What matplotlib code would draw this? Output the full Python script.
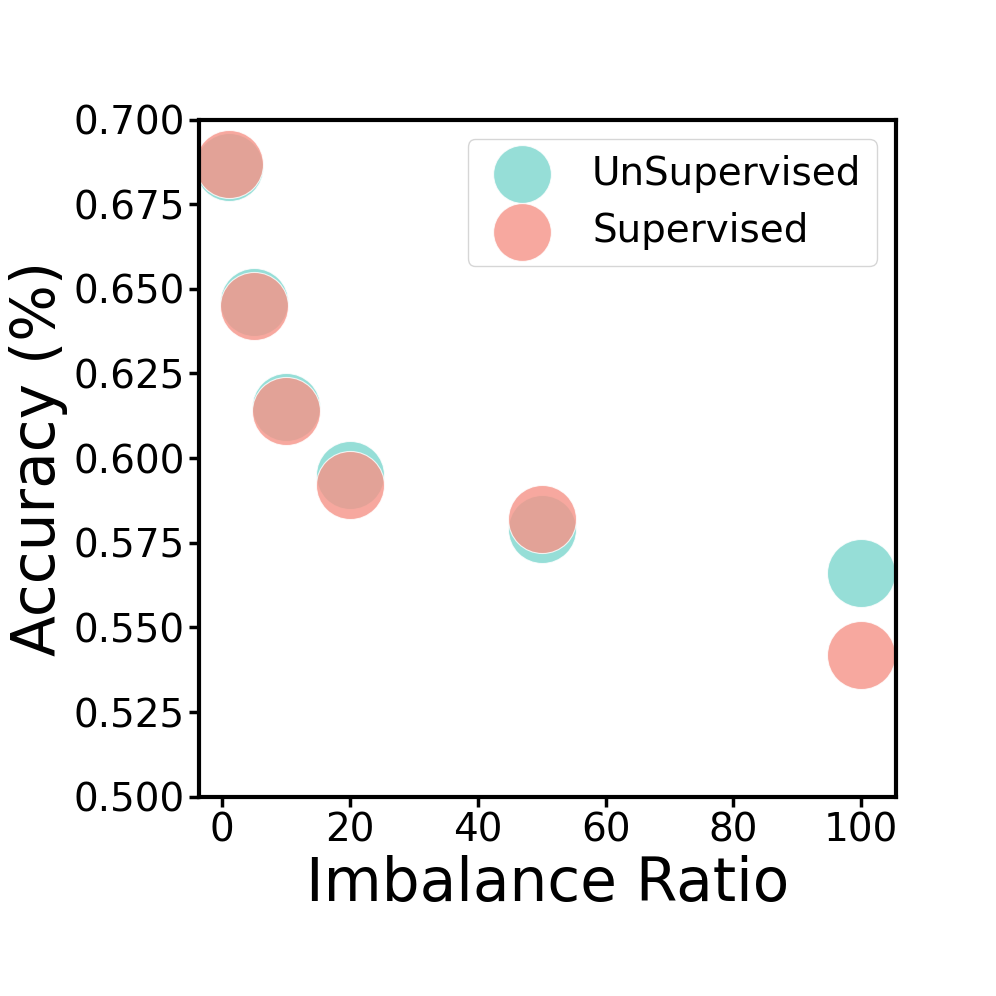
import matplotlib
matplotlib.use("Agg")
import matplotlib.pyplot as plt

# ratios d'imbalance et precision
ratios = [1, 5, 10, 20, 50, 100]
acc_unsup = [0.686, 0.646, 0.615, 0.595, 0.579, 0.566]
acc_sup = [0.687, 0.645, 0.614, 0.592, 0.582, 0.542]

fig = plt.figure(figsize=(9.96, 9.96), dpi=100)
ax = fig.add_subplot(111)
fig.subplots_adjust(left=0.2, right=0.9, bottom=0.2, top=0.88)

ax.scatter(ratios, acc_unsup, s=2400, color="#7CD6CE", alpha=0.8,
           edgecolors="white", linewidths=0.8, label="UnSupervised")
ax.scatter(ratios, acc_sup, s=2400, color="#F69387", alpha=0.8,
           edgecolors="white", linewidths=0.8, label="Supervised")

ax.set_xlim(-3.6, 105.5)
ax.set_ylim(0.5, 0.7)
ax.set_xticks([0, 20, 40, 60, 80, 100])
ax.set_yticks([0.5, 0.525, 0.55, 0.575, 0.6, 0.625, 0.65, 0.675, 0.7])
ax.set_yticklabels(["0.500", "0.525", "0.550", "0.575", "0.600", "0.625",
                    "0.650", "0.675", "0.700"])
ax.tick_params(labelsize=28, width=2.5, length=7)
for sp in ax.spines.values():
    sp.set_linewidth(3)

ax.set_xlabel("Imbalance Ratio", fontsize=43)
ax.set_ylabel("Accuracy (%)", fontsize=43)
ax.legend(loc="upper right", fontsize=28, markerscale=0.85)

fig.savefig("out.png", dpi=100)
